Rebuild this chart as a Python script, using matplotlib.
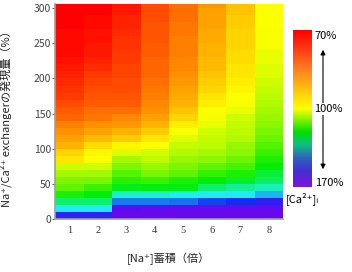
import numpy as np
import matplotlib
matplotlib.use("Agg")
import matplotlib.pyplot as plt
from matplotlib.colors import LinearSegmentedColormap, TwoSlopeNorm
from matplotlib.patches import FancyArrowPatch

plt.rcParams['font.family'] = ['Noto Sans CJK JP', 'DejaVu Sans']

# [Na+] accumulation (fold), exchanger expression (%) row edges
na_fold = [1, 2, 3, 4, 5, 6, 7, 8]
expr_edges = list(range(0, 320, 10))

# [Ca2+]i (%) per column, rows from 0-10% up to 300-310%
ca_col1 = [156, 138, 129, 120, 114, 111, 108, 104, 97, 95, 91, 89, 87, 85, 82, 81,
           79, 77, 76, 75, 74, 73, 72, 71, 71, 71, 71, 70, 70, 70, 70]
ca_col2 = [156, 138, 129, 122, 117, 112, 108, 104, 100, 99, 96, 92, 89, 87, 84, 83,
           81, 80, 79, 78, 77, 75, 74, 73, 73, 72, 72, 71, 71, 70, 70]
ca_col3 = [167, 164, 146, 135, 124, 119, 115, 111, 108, 103, 99, 94, 91, 88, 86, 83,
           81, 80, 79, 79, 78, 78, 77, 77, 76, 76, 75, 74, 74, 73, 73]
ca_col4 = [167, 165, 146, 135, 123, 117, 112, 109, 106, 104, 100, 97, 94, 91, 89, 87,
           86, 85, 84, 83, 82, 82, 82, 81, 81, 80, 80, 80, 79, 79, 79]
ca_col5 = [167, 166, 147, 137, 123, 120, 114, 111, 109, 107, 105, 103, 100, 98, 95, 93,
           91, 90, 89, 88, 87, 86, 86, 85, 85, 85, 84, 84, 83, 83, 83]
ca_col6 = [167, 166, 150, 138, 129, 122, 118, 114, 110, 108, 106, 105, 104, 102, 101, 100,
           98, 97, 95, 94, 93, 92, 92, 91, 91, 90, 90, 89, 89, 89, 88]
ca_col7 = [167, 166, 152, 138, 132, 125, 120, 116, 113, 110, 109, 107, 106, 105, 104, 102,
           101, 100, 99, 98, 97, 97, 96, 96, 95, 95, 95, 94, 94, 93, 93]
ca_col8 = [167, 166, 157, 142, 134, 128, 126, 122, 120, 117, 115, 113, 112, 110, 109, 108,
           107, 106, 105, 104, 103, 103, 102, 102, 101, 101, 101, 100, 100, 100, 100]

cmap = LinearSegmentedColormap.from_list("ca", [
    (0.0, "#ff0000"), (0.25, "#ff8000"), (0.5, "#ffff00"), (0.66, "#00ee00"),
    (0.77, "#20f0f0"), (0.87, "#1030f0"), (1.0, "#7a00f0")])
bar_cmap = LinearSegmentedColormap.from_list("bar", [
    (0.0, "#ff0000"), (0.1, "#ff3010"), (0.25, "#ff8020"), (0.5, "#ffff00"),
    (0.65, "#00e000"), (0.73, "#10c080"), (0.82, "#3060c0"), (0.9, "#4030d0"),
    (1.0, "#8010e0")])
norm = TwoSlopeNorm(vmin=70, vcenter=100, vmax=170)

Z = np.array([ca_col1, ca_col2, ca_col3, ca_col4, ca_col5, ca_col6, ca_col7, ca_col8]).T
x_edges = np.arange(len(na_fold) + 1) + 0.5

fig = plt.figure(figsize=(3.52, 2.72), dpi=100)
ax = fig.add_axes([55 / 352, 53 / 272, 228 / 352, 215 / 272])
ax.pcolormesh(x_edges, expr_edges, Z, cmap=cmap, norm=norm, shading="flat")
ax.set_xlim(0.5, 8.5)
ax.set_ylim(0, 306)
ax.set_yticks(range(0, 301, 50))
ax.set_xticks(na_fold)
ax.set_xticklabels([str(v) for v in na_fold], family="Liberation Serif", fontsize=7.5, color="#333333")
ax.tick_params(axis="y", labelsize=7.5, colors="#444444", length=2, width=0.6, pad=1)
ax.tick_params(axis="x", length=0, pad=5)
for s in ["top", "right"]:
    ax.spines[s].set_visible(False)
for s in ["left", "bottom"]:
    ax.spines[s].set_color("#a0a0a0")
    ax.spines[s].set_linewidth(1.2)

ax.set_ylabel("Na⁺/Ca²⁺ exchangerの発現量（%）", fontsize=8, color="#222222")
ax.yaxis.set_label_coords(-0.19, 0.48)
ax.set_xlabel("[Na⁺]蓄積（倍）", fontsize=8, color="#222222")
ax.xaxis.set_label_coords(0.5, -0.155)

# colour key
cax = fig.add_axes([293 / 352, 85 / 272, 19 / 352, 157 / 272])
cax.imshow(np.linspace(0, 1, 256).reshape(-1, 1), aspect="auto", cmap=bar_cmap,
           extent=[0, 1, 1, 0])
cax.axis("off")

fig.add_artist(FancyArrowPatch(
    (323 / 352, 1 - 47 / 272), (323 / 352, 1 - 172 / 272), transform=fig.transFigure,
    arrowstyle="<|-|>", mutation_scale=7, lw=0.8, color="black"))
fig.text(314 / 352, 1 - 36 / 272, "70%", fontsize=8, va="center", ha="left")
fig.text(328 / 352, 1 - 109 / 272, "100%", fontsize=8, va="center", ha="center",
         bbox=dict(facecolor="white", edgecolor="none", pad=0.5))
fig.text(315 / 352, 1 - 183 / 272, "170%", fontsize=8, va="center", ha="left")
fig.text(286 / 352, 1 - 199 / 272, "[Ca²⁺]ᵢ", fontsize=8, va="center", ha="left")

fig.savefig("out.png", dpi=100)
